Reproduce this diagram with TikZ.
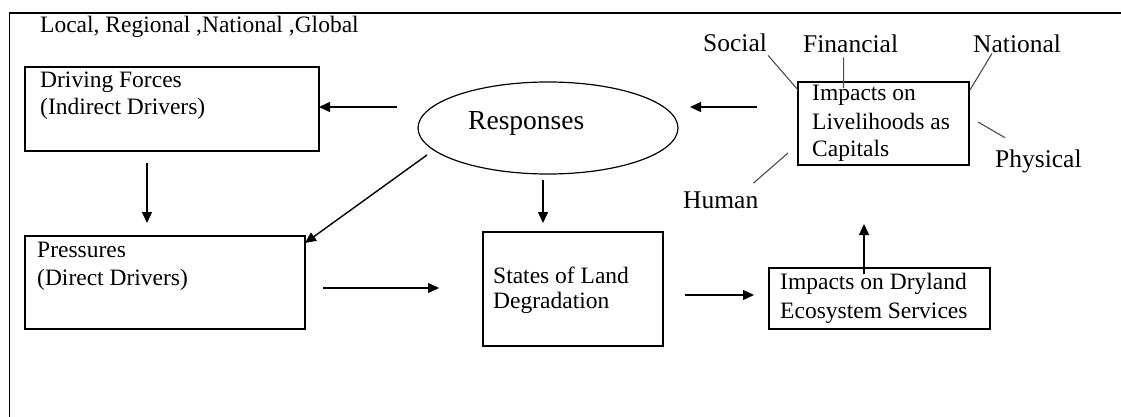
\documentclass[tikz,border=0pt]{standalone}
\usepackage{fontspec}
\setmainfont{Liberation Serif}
\usetikzlibrary{arrows.meta,calc,shapes.geometric}
\begin{document}
\begin{tikzpicture}[x=1pt,y=1pt,
  box/.style={draw, line width=1.5pt, inner sep=0pt, outer sep=0pt, anchor=north west},
  txt/.style={inner sep=0pt, anchor=base west, font=\fontsize{23.5}{28}\selectfont},
  lab/.style={inner sep=0pt, anchor=base west, font=\fontsize{25.5}{30}\selectfont},
  arr/.style={line width=1.4pt, -{Triangle[length=11pt,width=10pt]}},
  tick/.style={line width=1.1pt, draw=black!70}]
\useasboundingbox (0,0) rectangle (1121,-417);
% outer frame (cropped)
\draw[line width=1.6pt] (9.5,-417) -- (9.5,-13) -- (1121,-13);
\node[txt] (scale) at (40,-33) {Local, Regional ,National ,Global};
% boxes
\node[box, minimum width=294pt, minimum height=84pt] (drive) at (25,-67) {};
\node[txt] (drive1) at (40,-88) {Driving Forces};
\node[txt] (drive2) at (40,-115) {(Indirect Drivers)};
\node[box, minimum width=280pt, minimum height=93pt] (press) at (25,-236) {};
\node[txt] (press1) at (37,-257) {Pressures};
\node[txt] (press2) at (37,-285) {(Direct Drivers)};
\node[box, minimum width=180pt, minimum height=114pt] (states) at (483,-232) {};
\node[txt] (states1) at (493,-283) {States of Land};
\node[txt] (states2) at (493,-308) {Degradation};
\node[box, minimum width=171pt, minimum height=83pt] (live) at (798,-82) {};
\node[txt] (live1) at (812,-101) {Impacts on};
\node[txt] (live2) at (812,-129) {Livelihoods as};
\node[txt] (live3) at (812,-157) {Capitals};
\node[box, minimum width=221pt, minimum height=61pt] (dry) at (769,-268) {};
\node[txt] (dry1) at (780,-289) {Impacts on Dryland};
\node[txt] (dry2) at (780,-318) {Ecosystem Services};
% responses ellipse
\node[draw, ellipse, line width=1.2pt, minimum width=260pt, minimum height=92pt, inner sep=0pt, outer sep=0pt] (resp) at (548,-128) {};
\node[inner sep=0pt, anchor=base west, font=\fontsize{27.5}{32}\selectfont] (resptxt) at (468,-130) {Responses};
% capital labels
\node[lab] (soc) at (703,-52) {Social};
\node[lab] (fin) at (803,-53) {Financial};
\node[lab] (nat) at (973,-53) {National};
\node[lab] (phys) at (995,-167) {Physical};
\node[lab] (hum) at (683,-208) {Human};
% arrows
\draw[arr] ($(resp.west)+(-21,21)$) -- ($(drive.east)+(0,2)$);
\draw[arr] ($(live.west)+(-41,16.5)$) -- ($(resp.east)+(12,21)$);
\draw[arr] ($(drive.south)+(-25,-12)$) -- ($(press.north)+(-18,13)$);
\draw[arr] ($(resp.south)+(-5,-6)$) -- ($(states.north)+(-30,9)$);
\draw[arr] ($(resp.center)+(-121,-27)$) -- ($(press.north east)+(0,-7)$);
\draw[arr] ($(press.east)+(18,-5.5)$) -- ($(states.west)+(-44,1)$);
\draw[arr] ($(states.east)+(22,-6)$) -- ($(dry.west)+(-15,3.5)$);
\draw[arr] ($(dry.north)+(-15.5,-6)$) -- ($(live.south)+(-19.5,-59)$);
% label ticks
\draw[tick] ($(soc.south east)+(1,-3)$) -- ($(live.north west)+(0,-8)$);
\draw[tick] ($(fin.south)+(-7,-4)$) -- ($(live.north)+(-40,-6)$);
\draw[tick] ($(nat.south west)+(19,0)$) -- ($(live.north east)+(1,-8)$);
\draw[tick] ($(live.east)+(9,1.5)$) -- ($(phys.north west)+(10,11.4)$);
\draw[tick] ($(live.south west)+(-10,12)$) -- ($(hum.north east)+(-5,8)$);
\end{tikzpicture}
\end{document}
